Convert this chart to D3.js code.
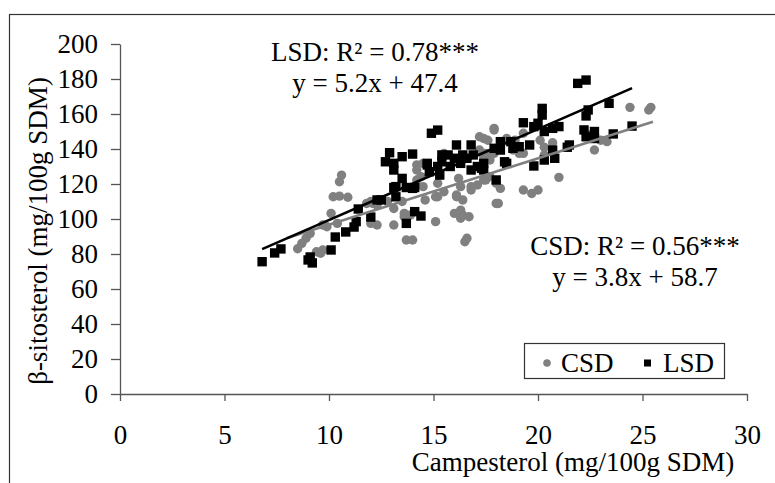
<!DOCTYPE html>
<html>
<head>
<meta charset="utf-8">
<script src="https://d3js.org/d3.v7.min.js"></script>
<style>
  body { margin: 0; background: white; }
  svg text { font-family: "Liberation Serif", "Times New Roman", serif; }
</style>
</head>
<body>
<div id="chart"></div>
<script>
// CSD (gray circles): campesterol, beta-sitosterol
csdX = [8.5,8.7,8.9,9.1,9.4,9.6,9.7,9.7,9.9,10.1,10.2,10.5,10.9,10.6,10.5,10.4,11.8,12.1,12.0,12.3,
        12.0,12.3,12.8,13.1,13.1,13.7,14.0,13.6,13.5,14.2,14.5,15.1,15.2,15.5,16.1,16.4,16.3,16.0,16.4,16.7,
        16.6,16.5,16.8,17.1,17.2,17.9,17.4,17.7,18.0,18.2,18.0,19.3,19.7,20.0,14.2,14.5,15.5,17.7,17.9,18.8,
        19.1,18.5,17.9,17.2,17.5,18.9,19.3,20.1,20.7,20.3,20.3,22.7,23.0,23.3,21.0,22.4,24.4,25.3,25.4,17.4,
        17.6,14.2,14.4,16.2,16.3,16.1,16.8,17.5,15.1,15.2,13.9,13.6,14.6,16.3,17.4,19.3,18.1]
csdY = [83,86.1,89,91.8,81.3,80.4,82.3,96.6,95.6,103.2,112.7,113.1,112.4,125.1,121.3,97.5,108.9,108.9,97.5,96.6,
        110,108,110,106,96.6,88,88,101.3,110,122.3,118.5,98.5,112.7,115.6,112.7,110.9,105.1,103.2,102.3,101.3,
        89,87,118.5,119.4,147,151.8,122.3,124.2,120.4,117.5,108.9,116.6,114.6,116.6,128,131.8,137.5,133.7,137.5,139.4,
        137.5,146,150.9,139.4,137.5,145,137.5,145,143.6,141,136.6,139.4,145,144.2,123.8,148,163.8,162.3,163.8,146,
        145,130.9,124.2,123.2,118.5,113.7,116.6,122.3,112.7,120.4,102.3,103.2,110.9,100.4,135.6,149,108.9]

// LSD (black squares)
lsdX = [6.8,7.4,7.7,9.0,9.2,9.1,10.1,10.3,10.8,11.2,11.3,11.4,12.0,12.3,12.5,12.7,12.9,13.1,13.5,14.0,
        13.1,13.5,13.1,13.7,14.1,13.2,13.7,14.1,14.4,14.9,15.2,14.7,14.8,15.2,15.4,15.4,15.7,16.1,16.8,16.0,
        16.4,15.8,16.3,16.8,17.1,17.3,16.6,16.9,15.3,17.9,18.0,21.9,22.3,23.4,22.4,22.3,20.2,20.2,19.3,19.8,
        20.0,20.3,20.7,21.0,22.2,22.7,22.7,22.3,23.6,21.5,21.4,20.7,20.8,20.3,19.8,19.6,18.8,19.1,18.7,18.2,
        18.2,18.4,17.4,17.4,18.5,24.5,14.0,14.7,13.2]
lsdY = [75.6,80.6,82.9,76.6,74.9,78.3,82.3,89.7,92.6,95.4,98.5,105.7,101.1,110.9,110.9,132.7,137.9,131.8,135.6,137.1,
        128,123.2,118,118,118,112.7,97.5,104.2,101.7,149,150.8,130.9,127,130,132.7,136.6,136.6,142.3,142.3,134.7,
        136.6,130,131.8,128,130,129,134.7,136.6,125.1,140.4,122.3,177.5,179.4,166.1,162.3,158.9,163.2,159.4,155,152.8,
        154.7,150,151.8,152.8,150.9,150,146,147,148.6,142.3,141,139.4,134.7,133.7,130.3,142.3,140.4,141.3,144.2,144.2,
        139.4,132.7,131.8,128,131.8,153.1,117.5,131.8,118.5]

// trend lines: slope, intercept, x range
csdFit = [3.8, 58.7, 8.0, 25.5]
lsdFit = [5.2, 47.4, 6.8, 24.5]

xTicks = [0,5,10,15,20,25,30]
yTicks = [0,20,40,60,80,100,120,140,160,180,200]

width = 775
height = 483
serif = 'Liberation Serif, Times New Roman, serif'

svg = d3.select('#chart').append('svg')
    .attr('width', width)
    .attr('height', height)

// outer frame (only left and top edges are visible)
svg.append('rect')
    .attr('x', 9.5).attr('y', 14.5)
    .attr('width', 800).attr('height', 500)
    .attr('fill', 'none')
    .attr('stroke', '#333')
    .attr('stroke-width', 1.2)

x = d3.scaleLinear().domain([0, 30]).range([120, 747])
y = d3.scaleLinear().domain([0, 200]).range([394, 44])

csd = csdX.map((v, i) => ({x: v, y: csdY[i]}))
lsd = lsdX.map((v, i) => ({x: v, y: lsdY[i]}))

// axes
yAxis = svg.append('g')
    .attr('transform', 'translate(120,0)')
    .call(d3.axisLeft(y).tickValues(yTicks).tickSize(9).tickSizeOuter(0).tickPadding(13))
xAxis = svg.append('g')
    .attr('transform', 'translate(0,394)')
    .call(d3.axisBottom(x).tickValues(xTicks).tickSize(7).tickSizeOuter(0))

yAxis.attr('font-family', serif).attr('font-size', 27)
xAxis.attr('font-family', serif).attr('font-size', 27)
svg.selectAll('.domain, .tick line').attr('stroke', '#555').attr('stroke-width', 1.3)
svg.selectAll('.tick text').attr('fill', '#000')
xAxis.selectAll('.tick text').attr('y', 50).attr('dy', 0)

// points
svg.append('g').selectAll('circle')
    .data(csd).enter().append('circle')
    .attr('cx', d => x(d.x))
    .attr('cy', d => y(d.y))
    .attr('r', 4.7)
    .attr('fill', '#808080')

svg.append('g').selectAll('rect')
    .data(lsd).enter().append('rect')
    .attr('x', d => x(d.x) - 4.7)
    .attr('y', d => y(d.y) - 4.7)
    .attr('width', 9.4)
    .attr('height', 9.4)
    .attr('fill', '#000')

// trend lines
function fitLine(f, color) {
  svg.append('line')
    .attr('x1', x(f[2])).attr('y1', y(f[0] * f[2] + f[1]))
    .attr('x2', x(f[3])).attr('y2', y(f[0] * f[3] + f[1]))
    .attr('stroke', color)
    .attr('stroke-width', 2.6)
}
fitLine(csdFit, '#808080')
fitLine(lsdFit, '#000')

// equations
function label(cx, cy, lines) {
  lines.forEach(function(t, i) {
    svg.append('text')
      .attr('x', cx).attr('y', cy + i * 31)
      .attr('text-anchor', 'middle')
      .attr('font-size', 27)
      .text(t)
  })
}
label(375, 61, ['LSD: R\u00b2 = 0.78***', 'y = 5.2x + 47.4'])
label(635, 255, ['CSD: R\u00b2 = 0.56***', 'y = 3.8x + 58.7'])

// axis titles
svg.append('text')
    .attr('x', 573).attr('y', 471)
    .attr('text-anchor', 'middle')
    .attr('font-size', 27)
    .text('Campesterol (mg/100g SDM)')

svg.append('text')
    .attr('transform', 'translate(47,231) rotate(-90)')
    .attr('text-anchor', 'middle')
    .attr('font-size', 27)
    .text('\u03b2-sitosterol (mg/100g SDM)')

// legend
legend = svg.append('g')
legend.append('rect')
    .attr('x', 524.5).attr('y', 343.5)
    .attr('width', 200).attr('height', 35)
    .attr('fill', 'white')
    .attr('stroke', '#333')
    .attr('stroke-width', 1.2)
legend.append('circle').attr('cx', 547).attr('cy', 363).attr('r', 3.8).attr('fill', '#808080')
legend.append('text').attr('x', 561).attr('y', 372).attr('font-size', 27).text('CSD')
legend.append('rect').attr('x', 644).attr('y', 359.5).attr('width', 7).attr('height', 7).attr('fill', '#000')
legend.append('text').attr('x', 663).attr('y', 372).attr('font-size', 27).text('LSD')
</script>
</body>
</html>
